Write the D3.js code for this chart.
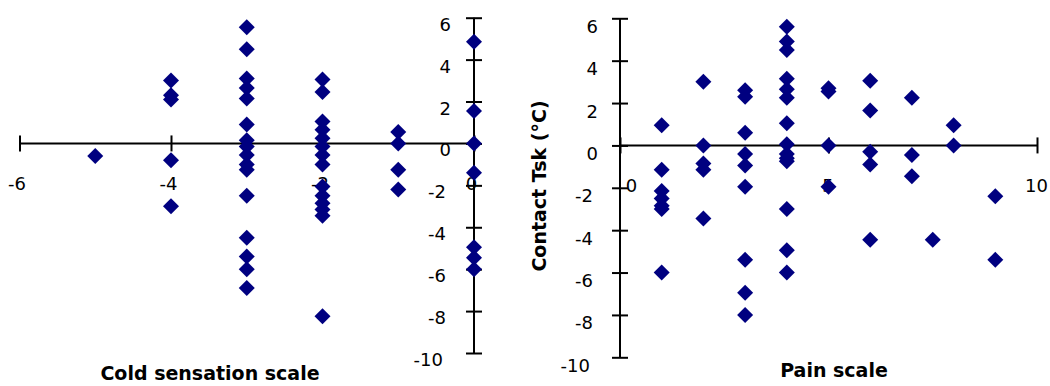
<!DOCTYPE html>
<html>
<head>
<meta charset="utf-8">
<script src="https://cdn.jsdelivr.net/npm/d3@7"></script>
<style>
  html, body { margin: 0; padding: 0; background: #fff; }
  svg { display: block; }
  text { font-family: "DejaVu Sans", Verdana, sans-serif; }
</style>
</head>
<body>
<svg id="chart" width="1050" height="386"></svg>
<script>
// ---- Data ----
// Left panel: cold sensation scale vs contact Tsk (°C)
const coldSensation = [
  -5,
  -4, -4, -4, -4, -4,
  -3, -3, -3, -3, -3, -3, -3, -3, -3, -3, -3, -3, -3, -3, -3, -3,
  -2, -2, -2, -2, -2, -2, -2, -2, -2, -2, -2, -2, -2, -2,
  -1, -1, -1, -1,
  0, 0, 0, 0, 0, 0, 0
];
const coldTsk = [
  -0.6,
  3.0, 2.3, 2.1, -0.8, -3.0,
  5.55, 4.5, 3.1, 2.65, 2.15, 0.9, 0.15, -0.15, -0.55, -1.0, -1.25, -2.5, -4.5, -5.4, -6.0, -6.9,
  3.05, 2.45, 1.05, 0.65, 0.25, -0.15, -0.55, -1.0, -2.05, -2.5, -2.85, -3.15, -3.45, -8.25,
  0.55, 0.0, -1.25, -2.2,
  4.85, 1.55, 0.0, -1.4, -4.95, -5.45, -6.0
];
// Right panel: pain scale vs contact Tsk (°C)
const painScale = [
  1, 1, 1, 1, 1, 1, 1,
  2, 2, 2, 2, 2,
  3, 3, 3, 3, 3, 3, 3, 3, 3,
  4, 4, 4, 4, 4, 4, 4, 4, 4, 4, 4, 4, 4, 4,
  5, 5, 5, 5,
  6, 6, 6, 6, 6,
  7, 7, 7,
  7.5,
  8, 8,
  9, 9
];
const painTsk = [
  0.95, -1.15, -2.15, -2.5, -2.85, -3.0, -6.0,
  3.0, 0.0, -0.85, -1.15, -3.45,
  2.6, 2.3, 0.6, -0.4, -0.95, -1.95, -5.4, -6.95, -8.0,
  5.6, 4.9, 4.5, 3.15, 2.65, 2.25, 1.05, 0.05, -0.4, -0.75, -3.0, -4.95, -6.0, -0.6,
  2.7, 2.55, 0.0, -1.95,
  3.05, 1.65, -0.3, -0.9, -4.45,
  2.25, -0.45, -1.45,
  -4.45,
  0.95, 0.0,
  -2.4, -5.4
];
const coldXTicks = [-6, -4, -2, 0];
const painXTicks = [0, 5, 10];
const yTicks = [-10, -8, -6, -4, -2, 0, 2, 4, 6];
const coldXLabel = "Cold sensation scale";
const painXLabel = "Pain scale";
const yLabel = "Contact Tsk (°C)";

// ---- Drawing ----
const svg = d3.select("#chart");
const markerColor = "#000080";
const diamond = "M0,-8L8,0L0,8L-8,0Z";
const fmt = d => String(d); // plain hyphen-minus like the original

function panel(cfg) {
  const g = svg.append("g");
  const x = cfg.x, y = cfg.y;
  const x0 = x(0), y0 = y(0);

  // x axis line at y = 0
  const xAxis = d3.axisBottom(x).tickValues(cfg.xTicks).tickSize(8).tickSizeOuter(0).tickFormat(fmt);
  const gx = g.append("g").attr("transform", `translate(0,${y0})`).call(xAxis);
  gx.select(".domain").attr("stroke", "#000").attr("stroke-width", 2)
    .attr("d", `M${x.range()[0]},0H${x.range()[1]}`);
  gx.selectAll(".tick line").attr("stroke", "#000").attr("stroke-width", 2).attr("y1", -8).attr("y2", 8);
  gx.selectAll(".tick text")
    .attr("font-size", 18).attr("font-family", "DejaVu Sans")
    .attr("fill", "#000").attr("y", 47).attr("dy", 0)
    .attr("dx", d => cfg.xLabelDx(d));

  // y axis line at x = 0
  const yAxis = d3.axisLeft(y).tickValues(yTicks).tickSize(8).tickSizeOuter(0).tickFormat(fmt);
  const gy = g.append("g").attr("transform", `translate(${x0},0)`).call(yAxis);
  gy.select(".domain").attr("stroke", "#000").attr("stroke-width", 2)
    .attr("d", `M0,${y.range()[0]}V${y.range()[1]}`);
  gy.selectAll(".tick line").attr("stroke", "#000").attr("stroke-width", 2).attr("x1", -8).attr("x2", 8);
  gy.selectAll(".tick text")
    .attr("font-size", 18).attr("font-family", "DejaVu Sans")
    .attr("fill", "#000").attr("x", cfg.yLabelX).attr("dy", cfg.yLabelDy)
    .attr("dx", d => d <= -10 ? -8 : (d < 0 ? -5 : 0))
    .attr("text-anchor", "end");
  [gx, gy].forEach(a => a.attr("font-size", null).attr("font-family", null));

  // markers
  g.append("g").selectAll("path")
    .data(cfg.xs.map((v, i) => [v, cfg.ys[i]]))
    .join("path")
    .attr("d", diamond)
    .attr("fill", markerColor)
    .attr("transform", d => `translate(${x(d[0])},${y(d[1])})`);

  // axis title
  g.append("text")
    .attr("x", cfg.titleX).attr("y", cfg.titleY)
    .attr("text-anchor", "middle")
    .attr("font-size", 19).attr("font-weight", "bold").attr("fill", "#000")
    .text(cfg.title);
}

panel({
  x: d3.scaleLinear().domain([-6, 0]).range([19.5, 474]),
  y: d3.scaleLinear().domain([-10, 6]).range([353, 17.7]),
  xs: coldSensation, ys: coldTsk,
  xTicks: coldXTicks,
  xLabelDx: d => -3,
  yLabelX: -23,
  yLabelDy: 12.5,
  title: coldXLabel, titleX: 210, titleY: 380
});

panel({
  x: d3.scaleLinear().domain([0, 10]).range([620, 1037]),
  y: d3.scaleLinear().domain([-10, 6]).range([357.3, 18.3]),
  xs: painScale, ys: painTsk,
  xTicks: painXTicks,
  xLabelDx: d => d === 0 ? 11 : -1,
  yLabelX: -22,
  yLabelDy: 14,
  title: painXLabel, titleX: 834, titleY: 377
});

// rotated y-axis title for the right panel
svg.append("text")
  .attr("transform", "translate(546,186) rotate(-90)")
  .attr("text-anchor", "middle")
  .attr("font-size", 19).attr("font-weight", "bold").attr("fill", "#000")
  .text(yLabel);
</script>
</body>
</html>
